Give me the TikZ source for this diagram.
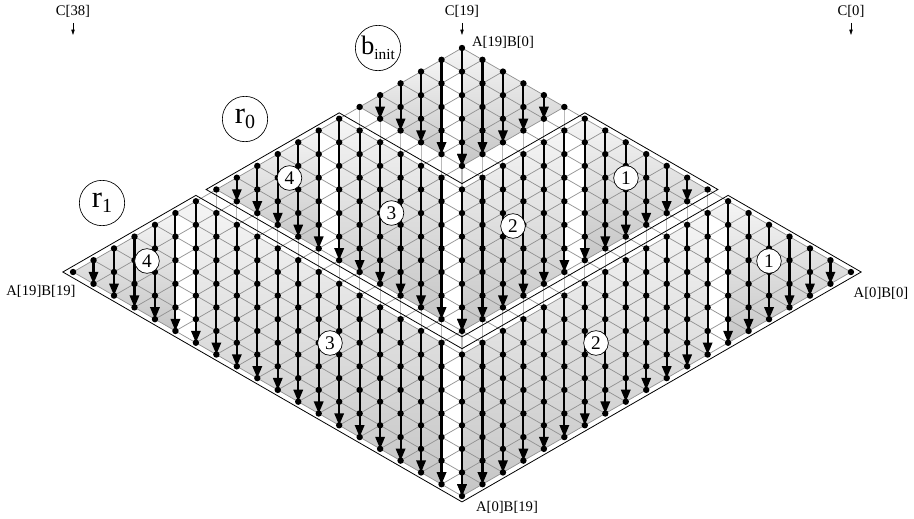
\documentclass[tikz,border=0pt]{standalone}
\usepackage{fontspec}
\setmainfont{Liberation Serif}
\usetikzlibrary{arrows.meta}

\newcommand{\regsub}[2]{\raisebox{-4pt}{\fontsize{#1}{#1}\selectfont #2}}

\tikzset{
    latline/.style={draw=gray!85,line width=0.55pt},
    colline/.style={draw=gray!55,line width=0.8pt},
    colarrow/.style={line width=1.6pt,-{Triangle[length=9pt,width=7pt]}},
    tinyarrow/.style={line width=0.4pt,-{Triangle[length=4pt,width=2.5pt]}},
    outline/.style={draw=black,line width=0.6pt},
    regshade/.style={top color=gray!8,bottom color=gray!45},
    dot/.style={circle,fill=black,inner sep=0pt,minimum size=4.8pt},
    numcircle/.style={circle,draw=black,line width=0.5pt,fill=white,inner sep=0pt,minimum size=18.5pt,font=\fontsize{14.5}{15}\selectfont},
    regcircle/.style={circle,draw=black,line width=0.5pt,fill=white,inner sep=0pt,minimum size=34pt},
    corner/.style={inner sep=0pt,font=\fontsize{11}{13}\selectfont}
}

\begin{document}
\begin{tikzpicture}[x=0.75pt,y=0.75pt,yscale=-1]
    \useasboundingbox (0,0) rectangle (914,518);

    % lattice points
    \foreach \u in {0,...,19} {
        \foreach \v in {0,...,19} {
            \coordinate (p-\u-\v) at ({462+(\u-\v)*20.47},{48+(\u+\v)*11.79});
        }
    }
    % outline corners, a quarter cell outside the lattice points
    \foreach \name/\u/\v in {a/-0.25/19.25,b/-0.25/12.75,c/12.75/12.75,d/12.75/-0.25,e/19.25/-0.25,f/19.25/19.25,
                             g/-0.25/12.25,h/-0.25/5.75,i/5.75/5.75,j/5.75/-0.25,k/12.25/-0.25,l/12.25/12.25} {
        \coordinate (o-\name) at ({462+(\u-\v)*20.47},{48+(\u+\v)*11.79});
    }

    % shaded parts, b_init
    \shade[regshade] (p-0-1) -- (p-0-5) -- (p-4-5) -- cycle;
    \shade[regshade] (p-0-0) -- (p-5-0) -- (p-5-5) -- (p-1-1) -- (p-0-1) -- cycle;
    % shaded parts, r_0
    \shade[regshade] (p-0-7) -- (p-0-12) -- (p-5-12) -- cycle;
    \shade[regshade] (p-0-6) -- (p-5-6) -- (p-11-12) -- (p-6-12) -- (p-1-7) -- (p-0-7) -- cycle;
    \shade[regshade] (p-6-6) -- (p-6-1) -- (p-12-7) -- (p-12-12) -- cycle;
    \shade[regshade] (p-6-0) -- (p-12-0) -- (p-12-6) -- (p-7-1) -- (p-6-1) -- cycle;
    % shaded parts, r_1
    \shade[regshade] (p-0-14) -- (p-0-19) -- (p-5-19) -- cycle;
    \shade[regshade] (p-0-13) -- (p-12-13) -- (p-18-19) -- (p-6-19) -- (p-1-14) -- (p-0-14) -- cycle;
    \shade[regshade] (p-13-13) -- (p-13-1) -- (p-19-7) -- (p-19-19) -- cycle;
    \shade[regshade] (p-13-0) -- (p-19-0) -- (p-19-6) -- (p-14-1) -- (p-13-1) -- cycle;

    % lattice lines
    \foreach \n in {0,...,19} {
        \draw[latline] (p-\n-0) -- (p-\n-19);
        \draw[latline] (p-0-\n) -- (p-19-\n);
    }
    \foreach \n in {0,...,18} {
        \pgfmathtruncatemacro{\m}{19-\n}
        \draw[colline] (p-0-\n) -- (p-\m-19);
        \draw[colline] (p-\n-0) -- (p-19-\m);
    }

    % outlines of r_1 and r_0
    \draw[outline] (o-a) -- (o-b) -- (o-c) -- (o-d) -- (o-e) -- (o-f) -- cycle;
    \draw[outline] (o-g) -- (o-h) -- (o-i) -- (o-j) -- (o-k) -- (o-l) -- cycle;

    % column arrows of each region
    \foreach \lo/\hi in {0/5,6/12,13/19} {
        \pgfmathtruncatemacro{\last}{\hi-1}
        \foreach \c in {0,...,\last} {
            \pgfmathtruncatemacro{\k}{max(\lo-\c,0)}
            \pgfmathtruncatemacro{\kc}{\k+\c}
            \pgfmathtruncatemacro{\e}{\hi-\c}
            \draw[colarrow] (p-\k-\kc) -- (p-\e-\hi);
            \draw[colarrow] (p-\kc-\k) -- (p-\hi-\e);
        }
    }

    % dots
    \foreach \u in {0,...,19} {
        \foreach \v in {0,...,19} {
            \node[dot] (d-\u-\v) at (p-\u-\v) {};
        }
    }

    % Text Node
    \node[corner] (c38) at (73,11.5) {C[38]};
    \node[corner] (c19) at (462,11.5) {C[19]};
    \node[corner] (c0) at (851,11.5) {C[0]};
    \coordinate (c38end) at (73,35);
    \coordinate (c19end) at (462,35);
    \coordinate (c0end) at (851,35);
    \draw[tinyarrow] (c38.south) ++(0,5) -- (c38end);
    \draw[tinyarrow] (c19.south) ++(0,5) -- (c19end);
    \draw[tinyarrow] (c0.south) ++(0,5) -- (c0end);

    \node[corner] (a19b0) at (503,42.5) {A[19]B[0]};
    \node[corner] (a19b19) at (41,291) {A[19]B[19]};
    \node[corner] (a0b0) at (881,293.5) {A[0]B[0]};
    \node[corner] (a0b19) at (507,507.5) {A[0]B[19]};

    % region circles
    \node[regcircle] (binit) at (378,48) {{\fontsize{20}{20}\selectfont b}\regsub{11.5}{init}};
    \node[regcircle] (r0) at (245,119) {{\fontsize{23}{23}\selectfont r}\regsub{15}{0}};
    \node[regcircle] (r1) at (102,203) {{\fontsize{23}{23}\selectfont r}\regsub{15}{1}};

    % part numbers
    \node[numcircle] (r1p4) at (147,261) {4};
    \node[numcircle] (r1p3) at (330,343) {3};
    \node[numcircle] (r1p2) at (596,343) {2};
    \node[numcircle] (r1p1) at (769,261) {1};
    \node[numcircle] (r0p4) at (289.5,178) {4};
    \node[numcircle] (r0p3) at (391.5,213) {3};
    \node[numcircle] (r0p2) at (513,226) {2};
    \node[numcircle] (r0p1) at (626,178) {1};
\end{tikzpicture}
\end{document}
